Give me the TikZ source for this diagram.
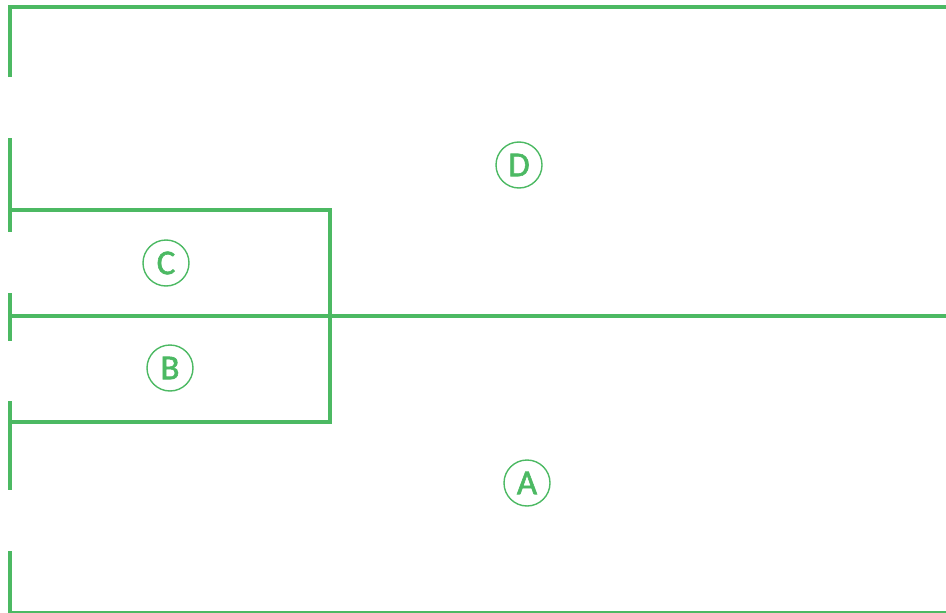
\documentclass[tikz,border=0pt]{standalone}
\usepackage{fontspec}
\setmainfont{Carlito}
\newfontfamily\tagfont[FakeBold=1.6]{Carlito}
\definecolor{gr}{RGB}{76,185,99}
\begin{document}
\begin{tikzpicture}[x=1pt,y=-1pt,
  wall/.style={draw=gr,line width=4pt},
  tag/.style={circle,draw=gr,line width=1.4pt,text=gr,minimum size=46pt,inner sep=0pt,font=\tagfont\fontsize{35}{35}\selectfont}]
\useasboundingbox (0,0) rectangle (946,613);
% outer frame
\draw[wall] (10,77) -- (10,6.5) -- (948,6.5);
\draw[wall] (10,138) -- (10,232);
\draw[wall] (10,293) -- (10,341);
\draw[wall] (10,401) -- (10,490);
\draw[wall] (10,551) -- (10,613) -- (948,613);
% inner box
\draw[wall] (10,210) -- (330,210) -- (330,422) -- (10,422);
\draw[wall] (10,316) -- (948,316);
% labels
\node[tag] (D) at (519,165) {D};
\node[tag] (C) at (166,263) {C};
\node[tag] (B) at (170,368) {B};
\node[tag] (A) at (527,483) {A};
\end{tikzpicture}
\end{document}
